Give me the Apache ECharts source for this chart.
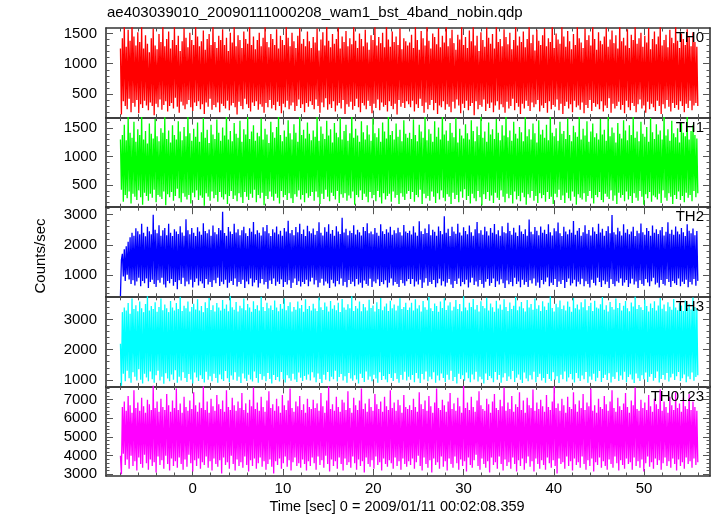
<!DOCTYPE html>
<html>
<head>
<meta charset="utf-8">
<script src="https://cdn.jsdelivr.net/npm/echarts@6/dist/echarts.min.js"></script>
<style>
html,body{margin:0;padding:0;background:#fff;}
#chart{width:717px;height:516px;}
</style>
</head>
<body>
<div id="chart"></div>
<script>
// ---------------- data ----------------
const titleText = 'ae403039010_20090111000208_wam1_bst_4band_nobin.qdp';
const xTitle = 'Time [sec] 0 = 2009/01/11 00:02:08.359';
const yTitle = 'Counts/sec';
const panelNames = ['TH0', 'TH1', 'TH2', 'TH3', 'TH0123'];
const panelColors = ['#ff0000', '#00ff00', '#0000ff', '#00ffff', '#ff00ff'];

// sample times: uniform bins starting at timeStart
const timeStart = -8.0;
const timeStep = 0.10676;

const th0 = [
1250,160, 1420,380, 1650,300, 1280,250, 1560,420, 1380,200, 1700,350, 1450,290, 1300,400, 1520,180,
1360,330, 1620,270, 1250,390, 1470,310, 1330,230, 1190,360, 1420,300, 1580,150, 1300,340, 1240,280,
1490,410, 1360,240, 1660,320, 1290,380, 1410,210, 1530,300, 1250,350, 1390,260, 1610,440, 1310,290,
1460,190, 1210,370, 1370,310, 1590,250, 1430,330, 1270,400, 1510,280, 1390,220, 1310,360, 1630,300,
1450,380, 1290,250, 1370,330, 1550,170, 1230,360, 1410,290, 1490,420, 1310,240, 1650,320, 1360,280,
1260,360, 1460,200, 1390,340, 1570,300, 1310,260, 1430,390, 1210,230, 1510,310, 1350,350, 1610,280,
1290,160, 1470,370, 1390,300, 1260,250, 1530,420, 1410,330, 1330,270, 1670,210, 1310,360, 1450,300,
1240,380, 1390,240, 1510,330, 1290,290, 1430,190, 1610,350, 1360,280, 1270,400, 1490,260, 1410,320,
1310,230, 1570,370, 1250,300, 1460,180, 1390,340, 1310,280, 1630,390, 1430,250, 1290,310, 1510,360,
1370,220, 1260,300, 1460,410, 1590,270, 1330,330, 1410,200, 1290,350, 1530,290, 1370,380, 1260,320,
1440,250, 1350,410, 1580,300, 1220,190, 1400,360, 1520,280, 1300,430, 1680,240, 1380,330, 1270,270,
1490,380, 1330,210, 1410,310, 1600,350, 1250,260, 1450,400, 1360,170, 1540,330, 1290,290, 1420,370,
1320,240, 1640,300, 1380,420, 1260,280, 1500,200, 1410,350, 1290,310, 1560,250, 1350,390, 1230,300,
1470,180, 1390,340, 1620,270, 1300,410, 1440,230, 1340,360, 1510,290, 1270,320, 1690,210, 1400,380,
1280,300, 1530,250, 1360,340, 1450,160, 1310,400, 1580,290, 1240,350, 1420,270, 1370,380, 1300,330,
1350,280, 1480,390, 1260,210, 1610,330, 1390,270, 1230,420, 1540,300, 1420,190, 1300,360, 1660,250,
1380,320, 1250,400, 1500,230, 1440,350, 1320,170, 1590,310, 1270,280, 1460,380, 1350,240, 1700,330,
1290,290, 1420,200, 1560,370, 1340,260, 1230,410, 1480,310, 1400,180, 1620,340, 1310,270, 1440,390,
1260,230, 1550,300, 1370,350, 1640,150, 1300,380, 1460,250, 1210,320, 1520,290, 1390,410, 1280,220,
1600,340, 1430,270, 1330,360, 1490,200, 1250,310, 1680,380, 1360,240, 1410,330, 1290,280, 1570,190,
1440,370, 1320,260, 1510,300, 1240,420, 1390,230, 1620,350, 1300,290, 1450,170, 1360,340, 1530,260,
1270,390, 1410,300, 1650,220, 1340,360, 1480,280, 1220,330, 1560,400, 1380,210, 1310,310, 1470,270,
1590,350, 1290,190, 1420,380, 1360,250, 1700,320, 1260,290, 1500,410, 1400,230, 1330,340, 1610,170,
1450,300, 1280,370, 1540,260, 1370,330, 1240,200, 1490,390, 1310,280, 1630,310, 1420,240, 1350,360,
1260,180, 1580,320, 1390,270, 1470,400, 1300,220, 1660,350, 1410,290, 1230,330, 1520,250, 1380,380,
1320,210, 1450,310, 1600,270, 1280,430, 1400,190, 1550,340, 1340,260, 1470,300, 1250,370, 1690,240,
1370,320, 1430,180, 1300,390, 1570,280, 1260,230, 1480,350, 1390,300, 1640,200, 1330,330, 1420,410,
1510,260, 1280,310, 1460,190, 1350,370, 1590,250, 1240,340, 1410,280, 1530,220, 1320,390, 1450,300,
1620,170, 1300,330, 1390,260, 1480,400, 1270,290, 1560,210, 1430,350, 1340,270, 1680,320, 1380,240,
1260,380, 1500,300, 1410,200, 1310,340, 1570,270, 1440,390, 1290,230, 1520,310, 1360,350, 1280,300
];
const th1 = [
1300,420, 1380,210, 1560,330, 1290,270, 1700,390, 1420,180, 1330,350, 1610,300, 1260,240, 1480,410,
1380,290, 1740,160, 1300,370, 1450,310, 1230,230, 1580,350, 1400,280, 1320,420, 1660,200, 1360,330,
1270,300, 1500,260, 1420,390, 1690,150, 1310,340, 1460,290, 1250,380, 1550,230, 1380,310, 1300,440,
1620,270, 1440,200, 1290,360, 1520,300, 1360,250, 1720,330, 1410,180, 1280,370, 1490,290, 1350,410,
1600,240, 1260,320, 1430,280, 1680,140, 1330,360, 1470,300, 1240,230, 1560,390, 1390,270, 1310,330,
1650,210, 1420,380, 1280,290, 1510,250, 1370,340, 1750,170, 1300,310, 1450,400, 1270,260, 1590,320,
1400,220, 1330,360, 1630,290, 1260,190, 1480,380, 1390,300, 1700,240, 1310,350, 1440,280, 1550,420,
1280,200, 1420,330, 1360,270, 1670,370, 1300,150, 1490,310, 1390,260, 1240,390, 1610,300, 1430,230,
1330,350, 1520,280, 1720,180, 1380,400, 1270,290, 1460,330, 1350,240, 1640,360, 1410,270, 1300,190,
1570,340, 1420,300, 1260,410, 1690,250, 1380,330, 1470,200, 1320,360, 1600,280, 1400,310, 1290,380,
1460,230, 1350,390, 1710,290, 1280,170, 1530,350, 1400,260, 1310,420, 1630,300, 1370,220, 1480,370,
1250,310, 1590,250, 1420,400, 1340,190, 1680,340, 1300,280, 1450,360, 1560,230, 1280,320, 1410,270,
1740,390, 1330,160, 1490,330, 1370,290, 1260,410, 1620,240, 1430,350, 1300,300, 1550,200, 1390,380,
1280,270, 1670,330, 1410,220, 1340,400, 1500,290, 1260,180, 1600,360, 1440,250, 1320,310, 1710,350,
1380,210, 1450,390, 1300,280, 1580,330, 1350,170, 1470,360, 1270,300, 1640,240, 1400,350, 1330,400,
1420,260, 1310,380, 1650,210, 1380,330, 1270,290, 1560,420, 1440,170, 1330,350, 1700,270, 1290,310,
1480,230, 1400,390, 1260,300, 1620,190, 1350,360, 1510,250, 1300,410, 1730,280, 1390,220, 1460,340,
1280,300, 1590,170, 1420,370, 1340,260, 1680,330, 1250,200, 1490,390, 1370,280, 1320,430, 1570,240,
1410,310, 1300,180, 1640,350, 1450,270, 1270,220, 1530,400, 1380,290, 1710,150, 1330,340, 1440,260,
1260,380, 1600,230, 1390,320, 1480,190, 1310,370, 1660,280, 1420,240, 1290,410, 1550,300, 1370,200,
1750,350, 1340,270, 1460,330, 1280,180, 1610,390, 1400,250, 1320,310, 1520,220, 1430,370, 1270,290,
1690,160, 1360,340, 1480,280, 1300,400, 1580,230, 1410,310, 1250,190, 1640,360, 1390,270, 1470,330,
1330,210, 1560,380, 1290,260, 1720,300, 1420,170, 1360,350, 1500,290, 1280,420, 1610,240, 1400,320,
1450,190, 1310,370, 1670,270, 1380,230, 1270,390, 1540,300, 1430,160, 1350,340, 1700,280, 1300,250,
1490,360, 1370,210, 1620,310, 1260,400, 1440,270, 1580,180, 1340,330, 1410,290, 1300,380, 1660,240,
1390,200, 1470,350, 1280,300, 1730,260, 1360,410, 1510,230, 1420,320, 1250,170, 1590,370, 1400,280,
1320,330, 1640,220, 1460,390, 1290,250, 1550,310, 1380,190, 1700,360, 1330,280, 1440,230, 1270,400,
1610,300, 1400,160, 1350,340, 1520,270, 1260,380, 1680,210, 1430,320, 1310,290, 1570,250, 1390,350,
1460,190, 1300,410, 1740,280, 1370,230, 1480,360, 1280,300, 1630,170, 1410,330, 1340,260, 1500,390,
1250,240, 1590,310, 1420,200, 1360,370, 1700,280, 1300,330, 1450,220, 1550,400, 1380,290, 1320,360
];
const th2 = [
300,1500, 1700,950, 1850,800, 1950,1000, 2100,850, 2250,700, 2400,820, 2300,650, 2550,780, 2450,900,
2350,620, 2700,800, 2400,720, 2280,880, 2600,560, 2450,760, 2350,840, 3000,700, 2500,600, 2380,820,
2650,740, 2300,900, 2480,680, 2560,580, 2320,800, 2700,720, 2400,860, 2290,640, 2520,760, 2440,520,
2360,820, 2620,700, 2410,900, 2300,620, 2850,780, 2480,690, 2350,840, 2560,580, 2400,760, 2290,880,
2580,650, 2440,790, 2330,710, 2720,560, 2460,860, 2380,680, 2510,760, 2300,600, 2640,820, 2420,720,
2350,900, 2560,630, 2480,770, 3100,690, 2390,840, 2300,570, 2590,740, 2440,800, 2360,660, 2700,880,
2410,610, 2520,760, 2320,700, 2480,840, 2600,560, 2380,780, 2290,690, 2550,880, 2430,620, 2760,750,
2350,830, 2480,580, 2400,720, 2310,860, 2580,680, 2450,760, 2660,540, 2380,810, 2290,700, 2520,880,
2410,640, 2610,770, 2350,700, 2470,850, 2300,600, 2560,760, 2440,680, 2800,820, 2380,560, 2490,740,
2320,880, 2590,660, 2420,790, 2700,610, 2360,760, 2510,700, 2290,840, 2630,620, 2450,780, 2380,900,
2540,680, 2330,820, 2460,590, 2750,740, 2400,870, 2310,650, 2580,780, 2430,710, 2680,560, 2370,840,
2490,720, 2300,610, 2620,800, 2440,690, 2360,880, 2900,640, 2410,760, 2530,590, 2320,830, 2470,700,
2390,770, 2650,620, 2340,860, 2500,680, 2420,740, 2310,570, 2590,810, 2460,700, 2720,640, 2380,870,
2440,600, 2350,780, 2560,720, 2400,850, 2300,630, 2680,760, 2450,690, 2360,820, 2520,580, 2410,740,
2600,880, 2330,650, 2480,760, 2380,700, 2570,600, 2420,830, 2310,720, 2660,640, 2440,790, 2390,860,
2470,700, 2340,860, 2620,610, 2410,780, 2300,680, 2780,840, 2450,560, 2360,750, 2540,890, 2390,640,
2680,760, 2320,700, 2500,830, 2430,590, 2300,720, 2610,870, 2460,650, 2350,790, 2950,610, 2400,740,
2530,860, 2290,680, 2600,560, 2440,800, 2370,700, 2700,880, 2410,620, 2310,760, 2580,690, 2460,840,
2350,580, 2640,750, 2420,900, 2300,660, 2520,780, 2760,610, 2380,830, 2480,700, 2330,570, 2600,770,
2450,860, 2310,640, 2560,730, 2400,880, 2690,600, 2350,790, 2480,680, 2300,850, 2620,720, 2420,560,
2380,810, 2730,690, 2460,760, 2330,620, 2570,900, 2410,700, 2290,780, 2650,590, 2440,840, 2360,670,
2520,760, 2300,600, 2840,820, 2430,710, 2350,880, 2590,640, 2470,750, 2320,570, 2610,830, 2400,690,
2500,770, 2360,910, 2680,620, 2420,740, 2310,660, 2550,860, 2450,600, 2740,780, 2380,700, 2290,830,
2600,560, 2440,760, 2350,880, 2510,650, 2400,720, 2790,840, 2330,610, 2470,770, 2560,690, 2300,870,
2420,620, 2650,790, 2370,700, 2490,580, 2310,840, 2580,730, 2440,650, 2360,900, 2700,760, 2410,600,
2530,810, 2300,690, 2460,770, 2620,560, 2380,850, 2990,700, 2420,620, 2340,790, 2570,740, 2450,880,
2310,640, 2680,750, 2400,830, 2520,600, 2350,710, 2440,870, 2600,680, 2290,780, 2470,560, 2380,820,
2710,700, 2420,640, 2330,860, 2560,750, 2460,620, 2300,790, 2640,900, 2400,680, 2520,740, 2360,580,
2480,830, 2590,700, 2310,650, 2430,860, 2750,760, 2370,600, 2500,800, 2330,720, 2610,660, 2440,880,
2350,620, 2560,770, 2420,700, 2290,840, 2680,590, 2470,760, 2380,680, 2540,860, 2320,640, 2460,800
];
const th3 = [
2200,800, 3250,1200, 3400,950, 3300,1300, 3550,1050, 3200,900, 3700,1250, 3350,1100, 3480,980, 3280,1350,
3600,1000, 3380,880, 3250,1200, 3520,1080, 3800,950, 3300,1280, 3450,1020, 3350,900, 3580,1150, 3260,1300,
3420,980, 3700,1100, 3310,870, 3500,1220, 3380,1040, 3250,950, 3620,1180, 3400,1000, 3300,1320, 3550,900,
3350,1100, 3760,980, 3290,1250, 3460,1060, 3380,930, 3600,1190, 3270,1010, 3420,880, 3530,1240, 3340,1080,
3680,960, 3300,1150, 3450,1030, 3250,910, 3580,1270, 3390,1000, 3720,1120, 3320,950, 3480,1200, 3270,1060,
3550,900, 3400,1180, 3300,1020, 3650,960, 3360,1290, 3500,1050, 3280,920, 3800,1140, 3410,1000, 3330,1250,
3590,970, 3270,1100, 3460,890, 3380,1210, 3700,1040, 3310,960, 3520,1170, 3400,1010, 3260,940, 3610,1280,
3350,1060, 3480,900, 3300,1190, 3760,1000, 3420,1120, 3290,950, 3560,1230, 3380,1030, 3470,880, 3320,1160,
3640,990, 3400,1090, 3280,940, 3520,1260, 3360,1020, 3700,910, 3310,1150, 3450,1050, 3580,970, 3270,1200,
3420,1010, 3330,930, 3600,1240, 3380,1070, 3490,960, 3260,1130, 3680,1000, 3350,1180, 3450,980, 3300,1250,
3530,1080, 3370,920, 3290,1210, 3740,1030, 3410,890, 3320,1170, 3570,1000, 3440,1260, 3270,950, 3620,1100,
3360,1020, 3480,1300, 3310,940, 3560,1090, 3250,1190, 3690,980, 3400,1120, 3330,900, 3510,1230, 3380,1040,
3790,970, 3290,1150, 3450,1010, 3370,880, 3600,1200, 3280,1060, 3520,930, 3410,1280, 3300,1000, 3660,1110,
3390,950, 3470,1170, 3270,1040, 3580,900, 3350,1250, 3720,990, 3310,1130, 3440,1010, 3540,920, 3290,1190,
3630,1060, 3380,960, 3500,1220, 3300,1030, 3460,900, 3710,1160, 3350,1000, 3420,1270, 3560,980, 3320,1100,
3400,1000, 3560,1160, 3300,920, 3680,1230, 3370,1040, 3480,890, 3270,1190, 3620,1010, 3410,1280, 3330,950,
3750,1100, 3380,1020, 3290,1250, 3540,900, 3450,1140, 3260,980, 3600,1210, 3390,1060, 3710,930, 3320,1170,
3470,1000, 3580,1300, 3300,960, 3430,1090, 3650,880, 3350,1200, 3520,1030, 3280,1150, 3790,970, 3400,1240,
3310,1050, 3560,920, 3420,1180, 3690,1010, 3340,1270, 3490,940, 3270,1100, 3610,1020, 3450,880, 3380,1210,
3730,990, 3300,1130, 3540,1050, 3410,920, 3260,1260, 3630,1000, 3370,1160, 3500,900, 3330,1080, 3680,1220,
3420,960, 3290,1110, 3570,1020, 3350,1290, 3460,930, 3760,1070, 3310,1180, 3440,1000, 3590,890, 3380,1240,
3270,1040, 3650,950, 3400,1150, 3520,1010, 3330,1270, 3700,920, 3360,1090, 3480,1200, 3290,980, 3610,1060,
3440,900, 3320,1190, 3560,1030, 3780,960, 3390,1250, 3270,1000, 3530,1120, 3410,890, 3640,1170, 3350,1020,
3470,1280, 3300,940, 3600,1080, 3430,1190, 3260,1010, 3720,910, 3380,1230, 3500,1050, 3340,960, 3580,1140,
3410,1020, 3680,1260, 3310,900, 3450,1110, 3560,1000, 3290,1200, 3630,950, 3400,1070, 3370,1290, 3510,930,
3750,1060, 3330,1170, 3480,990, 3270,1220, 3590,910, 3420,1100, 3340,1030, 3700,1250, 3390,960, 3550,1140,
3300,1000, 3460,1270, 3620,920, 3380,1090, 3280,1180, 3570,1010, 3440,890, 3770,1210, 3350,1050, 3490,960,
3410,1150, 3320,1020, 3660,1240, 3450,930, 3270,1100, 3540,1190, 3390,970, 3610,1060, 3300,1280, 3470,910,
3720,1030, 3360,1160, 3500,1000, 3280,1230, 3580,940, 3430,1080, 3330,1200, 3690,990, 3400,1120, 3310,1260,
3550,960, 3470,1050, 3290,1180, 3640,920, 3380,1110, 3520,1020, 3340,1240, 3740,970, 3420,1090, 3360,1150
];
const th0123 = [
4000,3000, 6600,4100, 6900,3500, 6400,3800, 7200,3300, 6700,4000, 6300,3450, 7500,3700, 6550,3200, 6850,3900,
6400,3550, 7100,3350, 6650,4050, 6300,3600, 7000,3250, 6750,3800, 6450,3450, 7800,3650, 6550,3100, 6900,3950,
6350,3500, 7050,3750, 6600,3300, 6450,4000, 7300,3550, 6700,3200, 6350,3850, 6950,3450, 6550,3700, 7600,3350,
6450,3900, 6800,3550, 6300,3250, 7150,3800, 6600,3400, 6400,4050, 6950,3600, 6500,3150, 7400,3750, 6700,3450,
6350,3850, 6850,3300, 6550,3650, 7700,3500, 6450,3950, 6900,3350, 6300,3700, 7050,3200, 6650,3850, 6400,3550,
7250,3400, 6750,3750, 6500,3050, 6950,3900, 6350,3500, 7500,3650, 6600,3300, 6450,4000, 7100,3550, 6700,3200,
6400,3800, 6900,3450, 6550,3650, 7350,3350, 6450,3950, 6800,3500, 6300,3150, 7000,3750, 6650,3450, 7650,3850,
6500,3300, 6850,3600, 6400,3900, 7150,3400, 6600,3700, 6350,3250, 6950,3550, 7450,3800, 6550,3400, 6750,3050,
6400,3700, 7050,3500, 6650,3850, 6300,3300, 7250,3600, 6700,3950, 6450,3400, 6950,3750, 7600,3200, 6550,3650,
6350,3900, 6900,3450, 6650,3600, 7200,3350, 6450,3800, 6750,3550, 6300,3200, 7050,3700, 6600,3450, 6500,3900,
7000,3600, 6550,3250, 6800,3950, 6400,3500, 7350,3750, 6650,3350, 6300,4000, 6950,3550, 7700,3150, 6500,3800,
6750,3450, 6400,3700, 7150,3300, 6600,3900, 6350,3550, 7000,3200, 6850,3850, 6450,3500, 7450,3650, 6550,3350,
6300,3950, 7100,3600, 6700,3250, 6450,3800, 6950,3450, 7600,3700, 6500,3100, 6800,3900, 6350,3550, 7050,3400,
6600,3750, 6400,3300, 7300,3950, 6750,3500, 6500,3650, 6900,3200, 6350,3850, 7150,3550, 6650,3400, 6450,3750,
7500,3600, 6550,3300, 6850,3900, 6400,3450, 7000,3700, 6700,3250, 6300,3850, 7250,3550, 6600,3400, 6500,3700,
6700,3500, 6450,3850, 7050,3300, 6600,3650, 6350,4000, 7400,3450, 6750,3200, 6500,3900, 6950,3550, 6400,3350,
7200,3750, 6650,3100, 6300,3850, 6850,3500, 7600,3650, 6550,3300, 6450,3950, 7000,3400, 6700,3700, 6350,3200,
6900,3850, 7350,3550, 6500,3350, 6800,3950, 6400,3600, 7100,3250, 6650,3800, 6300,3450, 7750,3700, 6550,3150,
6850,3900, 6450,3500, 7150,3350, 6600,3750, 6350,4050, 6950,3450, 7450,3250, 6700,3850, 6500,3550, 6400,3350,
7050,3700, 6750,3100, 6300,3900, 6900,3500, 7300,3650, 6550,3300, 6450,3950, 7000,3550, 6650,3200, 7650,3800,
6400,3450, 6850,3650, 6500,3300, 7200,3900, 6350,3550, 6750,3150, 6600,3750, 7400,3450, 6450,3850, 6950,3250,
6300,3600, 7100,3950, 6700,3400, 6550,3700, 7550,3150, 6400,3850, 6850,3550, 6500,3300, 7000,3750, 6650,3500,
6350,3250, 7250,3900, 6600,3600, 6450,3350, 6900,3750, 7700,3450, 6550,3050, 6800,3850, 6400,3550, 7050,3650,
6700,3300, 6300,3950, 7150,3450, 6600,3700, 6500,3200, 7400,3850, 6750,3500, 6350,3650, 6950,3350, 6550,3950,
7300,3550, 6450,3250, 6850,3750, 6650,3450, 7600,3850, 6400,3150, 6700,3650, 6300,3500, 7050,3900, 6600,3350,
6500,3700, 7200,3450, 6750,3250, 6400,3800, 6900,3550, 7500,3350, 6550,3950, 6350,3600, 7100,3200, 6650,3750,
6450,3500, 6800,3300, 7350,3850, 6600,3550, 6300,3650, 6950,3250, 6700,3900, 7650,3450, 6500,3700, 6400,3350,
7000,3800, 6550,3150, 6850,3600, 6450,3950, 7250,3400, 6650,3650, 6350,3300, 7050,3850, 6750,3500, 6500,3750,
7550,3250, 6400,3600, 6900,3900, 6600,3450, 6300,3700, 7150,3350, 6700,3850, 6450,3550, 7400,3200, 6550,3800,
6800,3450, 6350,3650, 7100,3300, 6650,3900, 6500,3550, 7300,3700, 6450,3350, 6900,3850, 6600,3500, 6400,3650
];
const panelValues = [th0, th1, th2, th3, th0123];

// axis ranges and tick labels
const xMin = -9.6, xMax = 57.3;
const xMajorTicks = [0, 10, 20, 30, 40, 50];
const xMinorTicks = [-8,-6,-4,-2,2,4,6,8,12,14,16,18,22,24,26,28,32,34,36,38,42,44,46,48,52,54,56];
const yMins = [110, 115, 270, 780, 2910];
const yMaxs = [1590, 1685, 3250, 3760, 7710];
const yMajorTicks = [
  [500, 1000, 1500],
  [500, 1000, 1500],
  [1000, 2000, 3000],
  [1000, 2000, 3000],
  [3000, 4000, 5000, 6000, 7000]
];
const yMinorStep = [100, 100, 200, 200, 200];

// ---------------- chart ----------------
const FONT = '"Liberation Sans", Arial, Helvetica, sans-serif';
const gridLeft = 106, gridWidth = 604, gridTop0 = 28, gridH = 89.6;
const frameLine = {show: true, onZero: false, lineStyle: {color: '#333', width: 1.6}};
const noLine = {show: false, onZero: false};
const plainNum = v => String(v);

function minorList(min, max, step) {
  const out = [];
  for (let v = Math.ceil(min / step) * step; v <= max; v += step) out.push(v);
  return out;
}

const grids = [], xAxes = [], yAxes = [], series = [];
panelNames.forEach((name, i) => {
  grids.push({left: gridLeft, width: gridWidth, top: gridTop0 + i * gridH, height: gridH});
  const isLast = i === panelNames.length - 1;
  ['bottom', 'top'].forEach(pos => {
    xAxes.push({
      type: 'value', gridIndex: i, position: pos, min: xMin, max: xMax,
      axisLine: frameLine,
      axisTick: {show: true, inside: true, length: 7, customValues: xMajorTicks, lineStyle: {color: '#555', width: 1}},
      axisLabel: (pos === 'bottom' && isLast) ?
        {show: true, customValues: xMajorTicks, formatter: plainNum, margin: 5, fontSize: 15, color: '#000', fontFamily: FONT} :
        {show: false},
      splitLine: {show: false}
    });
    xAxes.push({
      type: 'value', gridIndex: i, position: pos, min: xMin, max: xMax,
      axisLine: noLine,
      axisTick: {show: true, inside: true, length: 3.5, customValues: xMinorTicks, lineStyle: {color: '#555', width: 1}},
      axisLabel: {show: false},
      splitLine: {show: false}
    });
  });
  const yMinor = minorList(yMins[i], yMaxs[i], yMinorStep[i]);
  ['left', 'right'].forEach(pos => {
    yAxes.push({
      type: 'value', gridIndex: i, position: pos, min: yMins[i], max: yMaxs[i],
      axisLine: frameLine,
      axisTick: {show: true, inside: true, length: 7, customValues: yMajorTicks[i], lineStyle: {color: '#555', width: 1}},
      axisLabel: pos === 'left' ?
        {show: true, customValues: yMajorTicks[i], formatter: plainNum, margin: 9, fontSize: 15, color: '#000', fontFamily: FONT} :
        {show: false},
      splitLine: {show: false}
    });
    yAxes.push({
      type: 'value', gridIndex: i, position: pos, min: yMins[i], max: yMaxs[i],
      axisLine: noLine,
      axisTick: {show: true, inside: true, length: 3.5, customValues: yMinor, lineStyle: {color: '#555', width: 1}},
      axisLabel: {show: false},
      splitLine: {show: false}
    });
  });
  series.push({
    type: 'line', name: name,
    xAxisIndex: i * 4, yAxisIndex: i * 4,
    data: panelValues[i].map((v, k) => [timeStart + k * timeStep, v]),
    showSymbol: false, symbol: 'none', clip: true, sampling: null,
    lineStyle: {color: panelColors[i], width: 1.3, opacity: 1},
    z: 2
  });
});

const graphics = [
  {type: 'text', left: 107, top: 5, style: {text: titleText, font: '15px ' + FONT, fill: '#000'}},
  {type: 'text', x: 397, y: 507, style: {text: xTitle, font: '14.5px ' + FONT, fill: '#000', textAlign: 'center', textVerticalAlign: 'middle'}},
  {type: 'text', x: 41, y: 256, rotation: Math.PI / 2, style: {text: yTitle, font: '15px ' + FONT, fill: '#000', textAlign: 'center', textVerticalAlign: 'middle'}}
];
panelNames.forEach((name, i) => {
  graphics.push({type: 'text', x: 704, y: gridTop0 + i * gridH + 10, z: 10,
    style: {text: name, font: '15px ' + FONT, fill: '#000', textAlign: 'right', textVerticalAlign: 'middle'}});
});

const chart = echarts.init(document.getElementById('chart'), null, {renderer: 'canvas'});
chart.setOption({
  animation: false,
  backgroundColor: '#fff',
  grid: grids,
  xAxis: xAxes,
  yAxis: yAxes,
  series: series,
  graphic: graphics
});
</script>
</body>
</html>
